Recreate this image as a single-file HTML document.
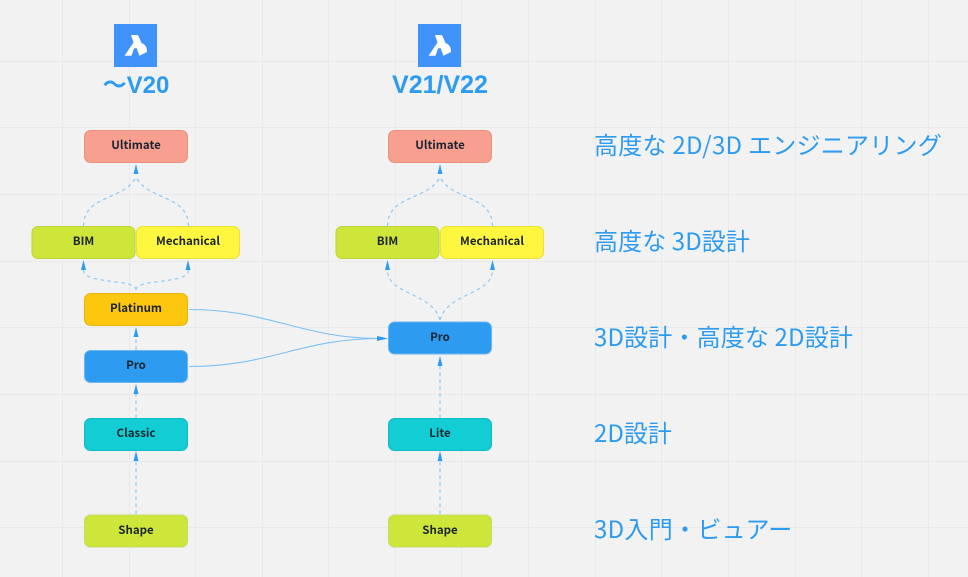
<!DOCTYPE html>
<html lang="ja"><head><meta charset="utf-8"><style>
html,body{margin:0;padding:0;background:#f2f2f2}
body{width:968px;height:577px;overflow:hidden;position:relative}
svg{position:absolute;left:0;top:0}
.n{font:700 11.5px "Noto Sans CJK JP",sans-serif;fill:#1c2530;text-anchor:middle}
.h{font:700 25px "Liberation Sans","Noto Sans CJK JP",sans-serif;fill:#2d9bf0;text-anchor:middle}
.l{font:400 24px "Noto Sans CJK JP",sans-serif;fill:#2d9bf0}
.d{fill:none;stroke:#8ccaf8;stroke-width:1.2;stroke-dasharray:3.500 3.500}
.s{fill:none;stroke:#7cc0f5;stroke-width:1.1}
.a{fill:#2d9bf0}
.g{stroke:#e9e9e9;stroke-width:1}
</style></head><body>
<svg width="968" height="577" viewBox="0 0 968 577" xmlns="http://www.w3.org/2000/svg">
<g class="g">
<path d="M62.5 0V577M129.5 0V577M195.5 0V577M262.5 0V577M328.5 0V577M395.5 0V577M461.5 0V577M528.5 0V577M595.5 0V577M661.5 0V577M728.5 0V577M795.5 0V577M861.5 0V577M928.5 0V577"/>
<path d="M0 61.5H968M0 127.5H968M0 194.5H968M0 261.5H968M0 327.5H968M0 394.5H968M0 461.5H968M0 527.5H968"/>
</g>

<!-- logos -->
<rect x="114" y="24" width="43" height="43" fill="#3f93fb"/>
<path d="M131 35H138L141.500 43C145 44 147 47 147 52L139.500 55.700L136.500 48L134 48.500L131.500 55.700H124.500L133.500 42.500Z" fill="#fff"/>
<rect x="418" y="24" width="43" height="43" fill="#3f93fb"/>
<path d="M435 35H442L445.500 43C449 44 451 47 451 52L443.500 55.700L440.500 48L438 48.500L435.500 55.700H428.500L437.500 42.500Z" fill="#fff"/>

<text class="h" x="136" y="93" style="font-size:24px">～V20</text>
<text class="h" x="440" y="93">V21/V22</text>

<!-- left connectors -->
<path class="d" d="M83.500 226C83.500 195 125 200 136 177M188.500 226C188.500 195 147 200 136 177"/>
<path class="d" d="M136 290C136 278 83.500 285 83.500 270M136 290C136 278 188.500 285 188.500 270"/>
<path class="d" d="M136 350V335M136 418V392M136 514V461"/>
<path class="s" d="M189 309.500C270 309.500 300 338 378 338.500M189 366.500C270 366.500 300 339 378 338.500"/>

<!-- right connectors -->
<path class="d" d="M387.500 226C387.500 195 429 200 440 177M492.500 226C492.500 195 451 200 440 177"/>
<path class="d" d="M440 320C432 292 387.500 295 387.500 270M440 320C448 292 492.500 295 492.500 270"/>
<path class="d" d="M440 418V366M440 514V461"/>

<!-- arrowheads -->
<g class="a">
<path d="M136 164L138.500 174H133.500Z"/>
<path d="M83.500 260L86 270H81Z"/>
<path d="M188 260L190.500 270H185.500Z"/>
<path d="M136 327L138.500 337H133.500Z"/>
<path d="M136 384L138.500 394H133.500Z"/>
<path d="M136 451L138.500 461H133.500Z"/>
<path d="M440 164L442.500 174H437.500Z"/>
<path d="M387.500 260L390 270H385Z"/>
<path d="M492.500 260L495 270H490Z"/>
<path d="M440 356L442.500 366H437.500Z"/>
<path d="M440 451L442.500 461H437.500Z"/>
<path d="M388 338.500L377 336V341Z"/>
</g>

<!-- nodes -->
<g stroke-width="1">
<rect x="84.500" y="130.500" width="103" height="32" rx="6" fill="#f89f90" stroke="#e99082"/>
<rect x="32" y="226.500" width="103" height="32" rx="6" fill="#cee53a" stroke="#bdd335"/>
<rect x="136.500" y="226.500" width="103" height="32" rx="6" fill="#fff63f" stroke="#e9e03a"/>
<rect x="84.500" y="293.500" width="103" height="32" rx="6" fill="#fdc60f" stroke="#e8b50e"/>
<rect x="84.500" y="350.500" width="103" height="32" rx="6" fill="#2d9bf0" stroke="#6cb6f0"/>
<rect x="84.500" y="418.500" width="103" height="32" rx="6" fill="#12cdd4" stroke="#10bcc3"/>
<rect x="84.500" y="515" width="103" height="32" rx="6" fill="#cee53a" stroke="#c5d96a"/>

<rect x="388.500" y="130.500" width="103" height="32" rx="6" fill="#f89f90" stroke="#e99082"/>
<rect x="336" y="226.500" width="103" height="32" rx="6" fill="#cee53a" stroke="#bdd335"/>
<rect x="440.500" y="226.500" width="103" height="32" rx="6" fill="#fff63f" stroke="#e9e03a"/>
<rect x="388.500" y="322" width="103" height="32" rx="6" fill="#2d9bf0" stroke="#6cb6f0"/>
<rect x="388.500" y="418.500" width="103" height="32" rx="6" fill="#12cdd4" stroke="#10bcc3"/>
<rect x="388.500" y="515" width="103" height="32" rx="6" fill="#cee53a" stroke="#c5d96a"/>
</g>

<text class="n" x="136" y="149">Ultimate</text>
<text class="n" x="83.500" y="245">BIM</text>
<text class="n" x="188" y="245">Mechanical</text>
<text class="n" x="136" y="312">Platinum</text>
<text class="n" x="136" y="369">Pro</text>
<text class="n" x="136" y="437">Classic</text>
<text class="n" x="136" y="534">Shape</text>
<text class="n" x="440" y="149">Ultimate</text>
<text class="n" x="387.500" y="245">BIM</text>
<text class="n" x="492" y="245">Mechanical</text>
<text class="n" x="440" y="341">Pro</text>
<text class="n" x="440" y="437">Lite</text>
<text class="n" x="440" y="534">Shape</text>

<text class="l" x="594" y="154" style="letter-spacing:.26px">高度な 2D/3D エンジニアリング</text>
<text class="l" x="594" y="250" style="letter-spacing:.1px">高度な 3D設計</text>
<text class="l" x="594" y="346" style="letter-spacing:.15px">3D設計・高度な 2D設計</text>
<text class="l" x="594" y="442">2D設計</text>
<text class="l" x="594" y="538" style="letter-spacing:.3px">3D入門・ビュアー</text>
</svg>
</body></html>
